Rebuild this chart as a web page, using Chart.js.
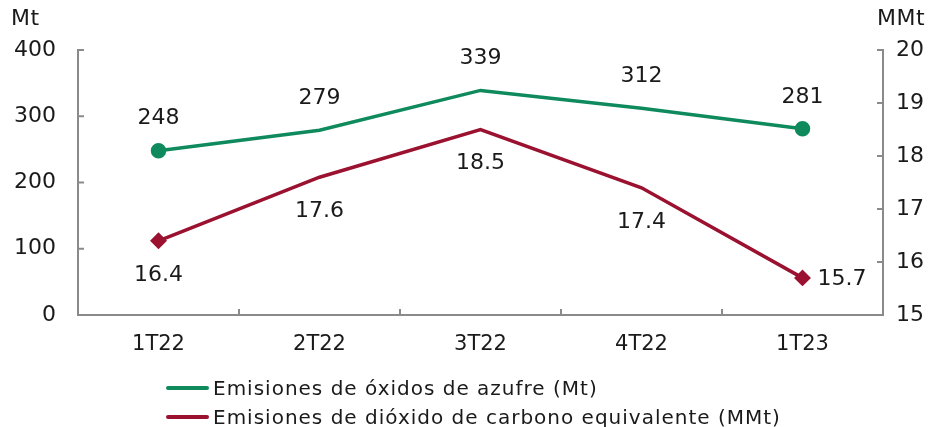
<!DOCTYPE html>
<html>
<head>
<meta charset="utf-8">
<script src="https://cdn.jsdelivr.net/npm/chart.js@4/dist/chart.umd.min.js"></script>
<style>
  html, body { margin: 0; padding: 0; background: #fff; }
  #wrap { position: relative; width: 939px; height: 427px; overflow: hidden; font-family: "DejaVu Sans", sans-serif; color: #1a1a1a; }
  canvas { position: absolute; left: 0; top: 0; }
  .unit { position: absolute; top: 5px; font-size: 22px; letter-spacing: 0.5px; }
  #legend { position: absolute; left: 166px; top: 373px; font-size: 20px; letter-spacing: 1px; }
  #legend div { display: flex; align-items: center; height: 29px; }
  #legend span.sw { display: inline-block; width: 43px; height: 4px; margin-right: 4px; border-radius: 2px; }
</style>
</head>
<body>
<div id="wrap">
  <canvas id="chart" width="939" height="427"></canvas>
  <div class="unit" style="left:11px">Mt</div>
  <div class="unit" style="left:877px">MMt</div>
  <div id="legend"></div>
</div>
<script>
const quarters = ["1T22", "2T22", "3T22", "4T22", "1T23"];
const sulfurOxides = [248, 279, 339, 312, 281];
const co2Equivalent = [16.4, 17.6, 18.5, 17.4, 15.7];
const leftTicks = [0, 100, 200, 300, 400];
const rightTicks = [15, 16, 17, 18, 19, 20];

const green = "#0e8a5c";
const red = "#9b1230";
const axisGray = "#8a8a8a";
const textColor = "#1a1a1a";
const font = "DejaVu Sans";

const legendItems = [
  { label: "Emisiones de óxidos de azufre (Mt)", color: green },
  { label: "Emisiones de dióxido de carbono equivalente (MMt)", color: red },
];
document.getElementById("legend").innerHTML = legendItems
  .map((it) => `<div><span class="sw" style="background:${it.color}"></span>${it.label}</div>`)
  .join("");

// small inward ticks on each axis
const innerTicks = {
  id: "innerTicks",
  afterDraw(chart) {
    const { ctx, chartArea, scales } = chart;
    ctx.save();
    ctx.strokeStyle = axisGray;
    ctx.lineWidth = 2;
    scales.y.ticks.forEach((t, i) => {
      const py = scales.y.getPixelForTick(i);
      ctx.beginPath(); ctx.moveTo(chartArea.left, py); ctx.lineTo(chartArea.left + 6, py); ctx.stroke();
    });
    scales.y2.ticks.forEach((t, i) => {
      const py = scales.y2.getPixelForTick(i);
      ctx.beginPath(); ctx.moveTo(chartArea.right, py); ctx.lineTo(chartArea.right - 6, py); ctx.stroke();
    });
    for (let i = 1; i < quarters.length; i++) {
      const px = (scales.x.getPixelForValue(i - 1) + scales.x.getPixelForValue(i)) / 2;
      ctx.beginPath(); ctx.moveTo(px, chartArea.bottom); ctx.lineTo(px, chartArea.bottom - 6); ctx.stroke();
    }
    ctx.restore();
  },
};

// value labels: sulfur above, co2 below (last one to the right)
const valueLabels = {
  id: "valueLabels",
  afterDatasetsDraw(chart) {
    const { ctx } = chart;
    ctx.save();
    ctx.fillStyle = textColor;
    ctx.font = `22px "${font}"`;
    ctx.textBaseline = "middle";
    chart.data.datasets.forEach((ds, di) => {
      const meta = chart.getDatasetMeta(di);
      meta.data.forEach((pt, i) => {
        const txt = di === 0 ? String(ds.data[i]) : ds.data[i].toFixed(1);
        if (di === 0) {
          ctx.textAlign = "center";
          ctx.fillText(txt, pt.x, pt.y - 32);
        } else if (i === ds.data.length - 1) {
          ctx.textAlign = "left";
          ctx.fillText(txt, pt.x + 15, pt.y + 1);
        } else {
          ctx.textAlign = "center";
          ctx.fillText(txt, pt.x, pt.y + 34);
        }
      });
    });
    ctx.restore();
  },
};

new Chart(document.getElementById("chart"), {
  type: "line",
  data: {
    labels: quarters,
    datasets: [
      {
        label: legendItems[0].label,
        data: sulfurOxides,
        yAxisID: "y",
        borderColor: green,
        backgroundColor: green,
        borderWidth: 3.5,
        pointRadius: [6, 0, 0, 0, 6],
        pointStyle: "circle",
        tension: 0,
      },
      {
        label: legendItems[1].label,
        data: co2Equivalent,
        yAxisID: "y2",
        borderColor: red,
        backgroundColor: red,
        borderWidth: 3.5,
        pointRadius: [6, 0, 0, 0, 6],
        pointStyle: "rectRot",
        tension: 0,
      },
    ],
  },
  options: {
    responsive: false,
    animation: false,
    layout: { padding: { top: 50, left: 0, right: 0, bottom: 0 } },
    plugins: { legend: { display: false }, tooltip: { enabled: false } },
    scales: {
      x: {
        offset: true,
        grid: { display: false, drawTicks: false },
        border: { color: axisGray, width: 2 },
        ticks: { color: textColor, font: { family: font, size: 21 }, padding: 17 },
        afterFit: (s) => { s.height = 112; },
      },
      y: {
        position: "left",
        min: 0,
        max: 400,
        afterBuildTicks: (s) => { s.ticks = leftTicks.map((v) => ({ value: v })); },
        grid: { display: false, drawTicks: false },
        border: { color: axisGray, width: 2 },
        ticks: { color: textColor, font: { family: font, size: 22 }, padding: 22 },
        afterFit: (s) => { s.width = 78; },
      },
      y2: {
        position: "right",
        min: 15,
        max: 20,
        afterBuildTicks: (s) => { s.ticks = rightTicks.map((v) => ({ value: v })); },
        grid: { display: false, drawTicks: false },
        border: { color: axisGray, width: 2 },
        ticks: { color: textColor, font: { family: font, size: 22 }, padding: 13 },
        afterFit: (s) => { s.width = 56; },
      },
    },
  },
  plugins: [innerTicks, valueLabels],
});
</script>
</body>
</html>
